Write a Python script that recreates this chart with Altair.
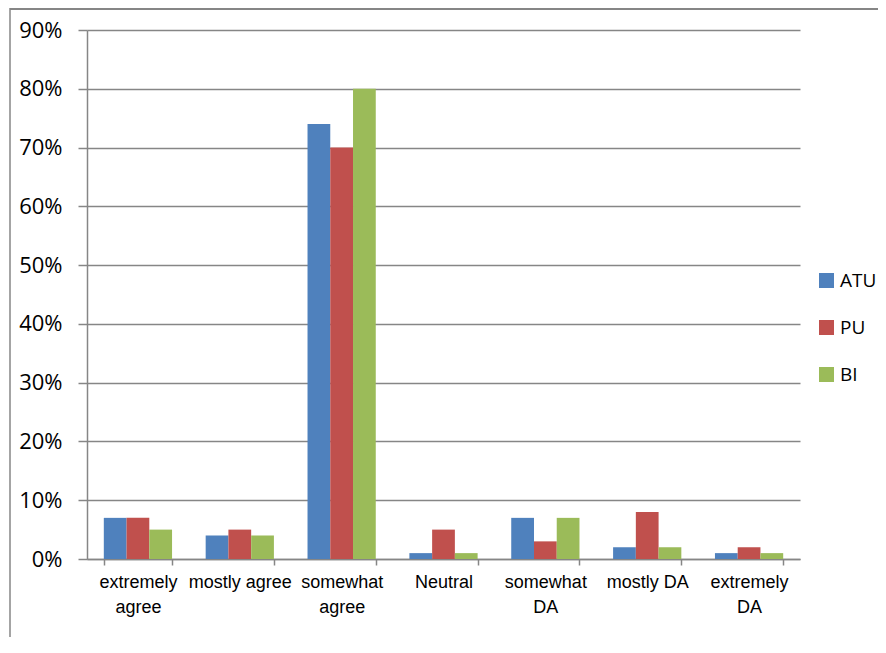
import altair as alt
import pandas as pd

categories = ["extremely|agree", "mostly agree", "somewhat|agree", "Neutral",
              "somewhat|DA", "mostly DA", "extremely|DA"]
series = ["ATU", "PU", "BI"]
atu = [7, 4, 74, 1, 7, 2, 1]
pu = [7, 5, 70, 5, 3, 8, 2]
bi = [5, 4, 80, 1, 7, 2, 1]
colors = ["#4F81BD", "#C0504D", "#9BBB59"]
y_ticks = [0, 0.1, 0.2, 0.3, 0.4, 0.5, 0.6, 0.7, 0.8, 0.9]

rows = []
for name, vals in zip(series, [atu, pu, bi]):
    for c, v in zip(categories, vals):
        rows.append({"category": c, "series": name, "value": v / 100})
df = pd.DataFrame(rows)

GRAY = "#868686"

bars = alt.Chart(df).mark_bar(stroke=None).encode(
    x=alt.X("category:N", sort=categories, title=None,
            scale=alt.Scale(paddingInner=0.33, paddingOuter=0.165),
            axis=alt.Axis(labelExpr="split(datum.label, '|')", labelAngle=0,
                          labelFont="Liberation Sans", labelFontSize=18,
                          labelColor="black", labelLineHeight=25, labelPadding=8,
                          tickSize=6, tickBand="extent", tickColor=GRAY,
                          tickWidth=1.5, domainColor=GRAY, domainWidth=1.5,
                          grid=False, labelBaseline="top")),
    xOffset=alt.XOffset("series:N", sort=series, scale=alt.Scale(paddingInner=0, paddingOuter=0)),
    y=alt.Y("value:Q", title=None,
            scale=alt.Scale(domain=[0, 0.9], nice=False),
            axis=alt.Axis(values=y_ticks, format=".0%", labelFont="Open Sans",
                          labelFontSize=22, labelColor="black", labelPadding=16,
                          tickSize=9, tickColor=GRAY, tickWidth=1.5,
                          gridColor=GRAY, gridWidth=1.5, grid=True,
                          domainColor=GRAY, domainWidth=1.5)),
    color=alt.Color("series:N", sort=series,
                    scale=alt.Scale(domain=series, range=colors),
                    legend=alt.Legend(title=None, orient="none", legendX=730, legendY=241,
                                      symbolType="square", symbolSize=225,
                                      symbolStrokeWidth=0, labelFont="Open Sans",
                                      labelFontSize=19, labelColor="black",
                                      rowPadding=27, labelOffset=4)),
)

frame_df = pd.DataFrame({"k": [0]})
left_line = alt.Chart(frame_df).mark_rule(color=GRAY, strokeWidth=1.5, clip=False).encode(
    x=alt.value(-77), y=alt.value(-22), y2=alt.value(620))
top_line = alt.Chart(frame_df).mark_rule(color=GRAY, strokeWidth=2, clip=False).encode(
    x=alt.value(-77), x2=alt.value(791), y=alt.value(-21))

chart = alt.layer(bars, left_line, top_line).properties(
    width=713, height=529,
    autosize=alt.AutoSizeParams(type="none"),
    padding={"left": 79, "top": 22, "right": 78, "bottom": 78},
).configure_view(stroke=None)

chart.save("out.html", embed_options={"renderer": "svg", "actions": False})
